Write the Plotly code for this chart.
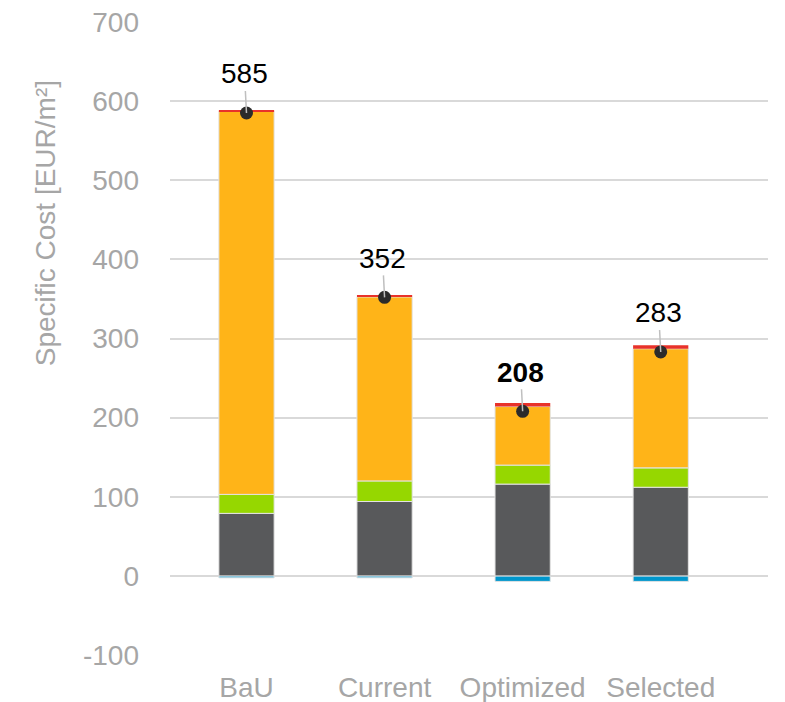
import plotly.graph_objects as go

# scénarios
scenarios = ["BaU", "Current", "Optimized", "Selected"]

# composantes du coût spécifique [EUR/m²]
blue = [-2.5, -2.5, -7, -7]
gray = [79, 94, 116, 112]
green = [24, 26, 24, 24.5]
orange = [484, 232.5, 74, 150.5]
red = [1.8, 2.5, 4.5, 4.5]

# coût total net
totals = [585, 352, 208, 283]
bold_label = "Optimized"

y_ticks = [-100, 0, 100, 200, 300, 400, 500, 600, 700]

colors = ["#0096CC", "#58595B", "#96D700", "#FFB418", "#E8322A"]
font = "Liberation Sans, Arial, sans-serif"

fig = go.Figure()
for vals, col in zip([blue, gray, green, orange, red], colors):
    lw = 0 if col == "#E8322A" else 1
    fig.add_trace(go.Bar(x=scenarios, y=vals, marker=dict(color=col, line=dict(color="#E3E3E3", width=lw)),
                         width=0.4, showlegend=False))

fig.add_trace(go.Scatter(x=scenarios, y=totals, mode="markers",
                         marker=dict(color="#2B2B2B", size=13), showlegend=False))

for s, t in zip(scenarios, totals):
    txt = f"<b>{t}</b>" if s == bold_label else str(t)
    fig.add_annotation(x=s, y=t, text=txt, showarrow=True, arrowhead=0, arrowwidth=1.5,
                       arrowcolor="#BFBFBF", ax=-2, ay=-39, standoff=0,
                       font=dict(size=28, color="black", family=font))

# titre de l'axe y
fig.add_annotation(text="Specific Cost [EUR/m²]", xref="paper", yref="paper", x=0, y=0.682,
                   xanchor="center", yanchor="middle",
                   xshift=-125, textangle=-90, showarrow=False,
                   font=dict(size=28, color="#A6A6A6", family=font))

# la page ajoute 8 px de marge autour du graphique
fig.update_layout(
    barmode="relative",
    width=777, height=694,
    margin=dict(l=162, r=17, t=14, b=47),
    plot_bgcolor="white", paper_bgcolor="white",
    font=dict(family=font, size=28, color="#A6A6A6"),
    xaxis=dict(range=[-0.554, 3.777], showgrid=False, showline=False, ticks="", automargin=False,
               ticklabelstandoff=13, ticklabeloverflow="allow", tickfont=dict(size=28, color="#A6A6A6")),
    yaxis=dict(range=[-100, 700], tickvals=y_ticks, ticktext=[str(v) for v in y_ticks],
               showgrid=True, gridcolor="#D9D9D9", gridwidth=1.5, automargin=False,
               zeroline=True, zerolinecolor="#D9D9D9", zerolinewidth=1.5, showline=False,
               ticklabelstandoff=30, ticklabeloverflow="allow", tickfont=dict(size=28, color="#A6A6A6")),
)

fig.write_html("out.html")
